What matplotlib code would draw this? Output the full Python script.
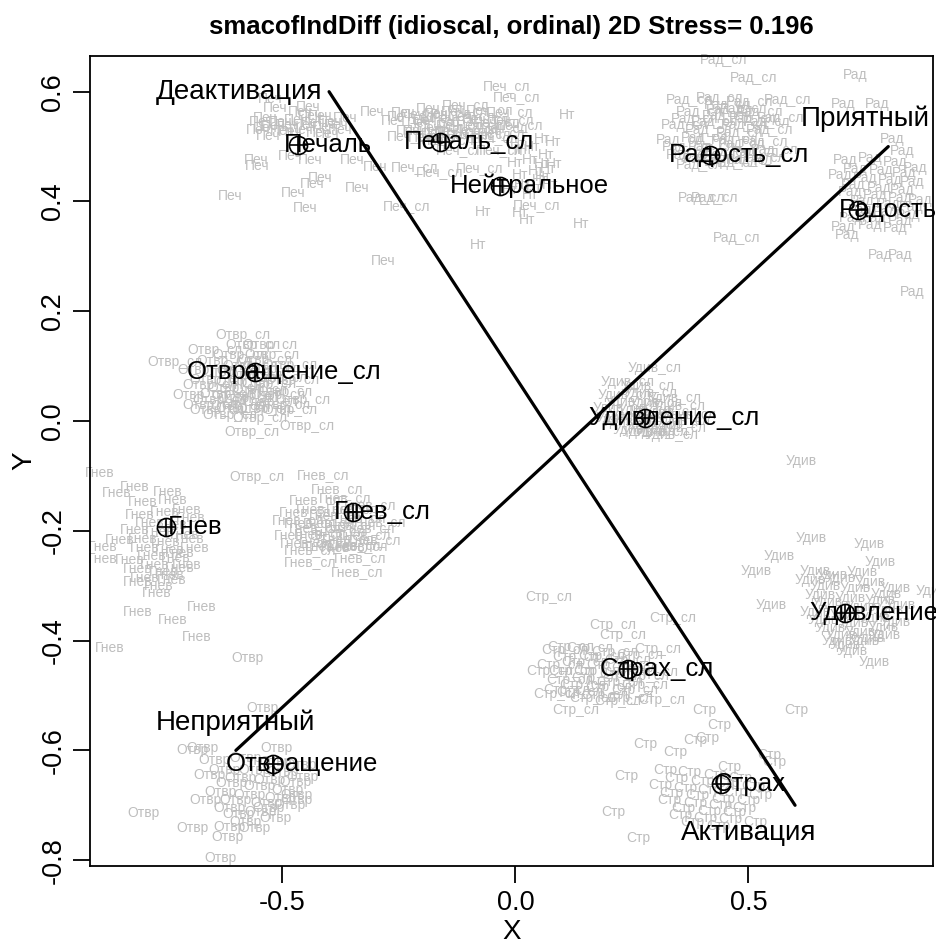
import matplotlib
matplotlib.use("Agg")
import matplotlib.pyplot as plt

plt.rcParams['font.family'] = ['Liberation Sans', 'DejaVu Sans']

# ---------------- data ----------------
title = "smacofIndDiff (idioscal, ordinal) 2D Stress= 0.196"

centroid_labels = ["Печаль", "Печаль_сл", "Нейтральное", "Радость_сл", "Радость",
                   "Отвращение_сл", "Гнев", "Гнев_сл", "Удивление_сл", "Удивление",
                   "Страх_сл", "Страх", "Отвращение"]
centroid_x = [-0.466, -0.162, -0.033, 0.418, 0.736, -0.559, -0.750, -0.348,
              0.277, 0.707, 0.241, 0.440, -0.520]
centroid_y = [0.503, 0.509, 0.428, 0.485, 0.385, 0.090, -0.193, -0.165,
              0.006, -0.350, -0.452, -0.661, -0.624]

# individual (subject) configurations, gray labels
pech_x = [-0.538, -0.538, -0.462, -0.420, -0.505, -0.452, -0.398, -0.366, -0.553, -0.484,
          -0.424, -0.377, -0.557, -0.555, -0.613, -0.478, -0.452, -0.340, -0.420, -0.437,
          -0.284, -0.351, -0.302, -0.441, -0.484, -0.308, -0.516, -0.445, -0.527,
          -0.545, -0.520, -0.490, -0.470, -0.435, -0.410, -0.385, -0.500, -0.460, -0.440,
          -0.530, -0.405]
pech_y = [0.552, 0.534, 0.563, 0.556, 0.545, 0.539, 0.545, 0.552, 0.530, 0.526,
          0.525, 0.530, 0.475, 0.464, 0.410, 0.415, 0.388, 0.424, 0.443, 0.432,
          0.291, 0.475, 0.463, 0.475, 0.483, 0.563, 0.570, 0.572, 0.587,
          0.545, 0.538, 0.540, 0.548, 0.543, 0.535, 0.540, 0.528, 0.530, 0.555,
          0.520, 0.522]

pechsl_x = [-0.018, 0.003, 0.010, -0.216, -0.162, -0.108, -0.055, -0.012, -0.237, -0.183,
            -0.130, -0.076, -0.023, -0.205, -0.151, -0.098, -0.044, -0.216, -0.162, -0.076,
            -0.233, 0.046, -0.226, -0.119, -0.033,
            -0.225, -0.195, -0.170, -0.145, -0.120, -0.095, -0.065, -0.040, -0.010, -0.190,
            -0.160, -0.125, -0.085, -0.060, -0.140, -0.180, -0.110, -0.030]
pechsl_y = [0.610, 0.590, 0.539, 0.563, 0.570, 0.576, 0.566, 0.563, 0.548, 0.545,
            0.552, 0.539, 0.534, 0.530, 0.525, 0.521, 0.515, 0.463, 0.454, 0.461,
            0.392, 0.393, 0.519, 0.494, 0.494,
            0.555, 0.560, 0.548, 0.562, 0.540, 0.555, 0.550, 0.545, 0.548, 0.530,
            0.535, 0.528, 0.530, 0.522, 0.512, 0.518, 0.565, 0.525]

nt_x = [0.057, 0.057, 0.083, 0.010, 0.025, 0.141, -0.070, -0.080, 0.111, 0.080,
        -0.001, 0.031, 0.010, 0.053, -0.012, 0.031, 0.074, 0.020,
        0.000, 0.045, 0.065, 0.035, 0.015, 0.060, 0.040, 0.070, 0.005]
nt_y = [0.514, 0.468, 0.468, 0.379, 0.366, 0.359, 0.381, 0.321, 0.557, 0.508,
        0.494, 0.475, 0.448, 0.439, 0.421, 0.412, 0.430, 0.494,
        0.470, 0.455, 0.485, 0.500, 0.430, 0.445, 0.425, 0.460, 0.505]

radsl_x = [0.447, 0.512, 0.585, 0.428, 0.400, 0.475, 0.374, 0.439, 0.503, 0.396,
           0.460, 0.525, 0.568, 0.364, 0.428, 0.492, 0.546, 0.353, 0.407, 0.471,
           0.535, 0.374, 0.439, 0.503, 0.557, 0.396,
           0.385, 0.415, 0.450, 0.480, 0.510, 0.540, 0.420, 0.455, 0.485, 0.515,
           0.365, 0.455, 0.490, 0.410, 0.470, 0.530]
radsl_y = [0.658, 0.625, 0.585, 0.406, 0.406, 0.333, 0.585, 0.588, 0.581, 0.563,
           0.566, 0.563, 0.552, 0.539, 0.545, 0.539, 0.530, 0.512, 0.515, 0.512,
           0.508, 0.485, 0.475, 0.475, 0.494, 0.466,
           0.550, 0.530, 0.555, 0.525, 0.550, 0.545, 0.500, 0.490, 0.505, 0.490,
           0.500, 0.575, 0.568, 0.478, 0.470, 0.480]

rad_x = [0.728, 0.703, 0.776, 0.808, 0.829, 0.851, 0.782, 0.825, 0.703, 0.711,
         0.707, 0.761, 0.814, 0.857, 0.696, 0.750, 0.804, 0.851, 0.718, 0.771,
         0.825, 0.868, 0.739, 0.793, 0.842, 0.761, 0.814,
         0.730, 0.785, 0.835, 0.725, 0.780, 0.830, 0.745, 0.800, 0.850, 0.770,
         0.825, 0.720]
rad_y = [0.630, 0.577, 0.577, 0.514, 0.492, 0.235, 0.302, 0.302, 0.353, 0.339,
         0.475, 0.479, 0.472, 0.461, 0.448, 0.443, 0.439, 0.435, 0.417, 0.412,
         0.406, 0.403, 0.384, 0.381, 0.375, 0.357, 0.352,
         0.460, 0.458, 0.452, 0.430, 0.425, 0.420, 0.400, 0.395, 0.390, 0.370,
         0.365, 0.370]

otvrsl_x = [-0.585, -0.563, -0.527, -0.523, -0.731, -0.456, -0.641, -0.585, -0.565, -0.447,
            -0.555, -0.645, -0.591, -0.538, -0.484, -0.666, -0.613, -0.559, -0.505, -0.656,
            -0.602, -0.548, -0.495, -0.634, -0.580, -0.527, -0.613, -0.548, -0.484, -0.677,
            -0.625, -0.570, -0.520, -0.640, -0.585, -0.530, -0.480, -0.620, -0.565, -0.510,
            -0.595, -0.540, -0.500, -0.655]
otvrsl_y = [0.157, 0.138, 0.138, 0.120, 0.107, 0.038, 0.020, 0.024, -0.020, -0.009,
            -0.102, 0.129, 0.120, 0.111, 0.102, 0.093, 0.089, 0.084, 0.078, 0.066,
            0.060, 0.056, 0.053, 0.038, 0.042, 0.035, 0.011, 0.005, 0.020, 0.047,
            0.110, 0.100, 0.095, 0.075, 0.072, 0.068, 0.075, 0.050, 0.045, 0.048,
            0.028, 0.022, 0.030, 0.030]

gnev_x = [-0.892, -0.855, -0.817, -0.746, -0.799, -0.735, -0.705, -0.885, -0.885, -0.705,
          -0.810, -0.737, -0.769, -0.810, -0.735, -0.673, -0.683, -0.870, -0.806, -0.752,
          -0.698, -0.817, -0.763, -0.709, -0.795, -0.741, -0.688, -0.827, -0.774, -0.720,
          -0.795, -0.741, -0.849,
          -0.785, -0.735, -0.800, -0.750, -0.700, -0.780, -0.730, -0.810, -0.755, -0.765,
          -0.720]
gnev_y = [-0.095, -0.131, -0.120, -0.129, -0.148, -0.144, -0.162, -0.230, -0.251, -0.262,
          -0.293, -0.290, -0.313, -0.348, -0.362, -0.339, -0.393, -0.413, -0.171, -0.166,
          -0.177, -0.199, -0.202, -0.208, -0.231, -0.235, -0.231, -0.253, -0.262, -0.268,
          -0.286, -0.281, -0.217,
          -0.185, -0.190, -0.215, -0.220, -0.215, -0.245, -0.250, -0.270, -0.275, -0.300,
          -0.240]

gnevsl_x = [-0.413, -0.383, -0.441, -0.362, -0.441, -0.334, -0.340, -0.467, -0.430, -0.366,
            -0.312, -0.452, -0.387, -0.334, -0.291, -0.430, -0.377, -0.323, -0.409, -0.344,
            -0.302, -0.462,
            -0.415, -0.350, -0.440, -0.400, -0.355, -0.315, -0.420, -0.360, -0.395, -0.330,
            -0.450]
gnevsl_y = [-0.098, -0.124, -0.235, -0.230, -0.257, -0.250, -0.275, -0.180, -0.144, -0.140,
            -0.153, -0.166, -0.171, -0.177, -0.184, -0.195, -0.202, -0.208, -0.220, -0.226,
            -0.217, -0.208,
            -0.160, -0.160, -0.185, -0.185, -0.190, -0.195, -0.205, -0.215, -0.228, -0.228,
            -0.222]

otvr_x = [-0.576, -0.542, -0.671, -0.692, -0.512, -0.799, -0.692, -0.613, -0.619, -0.634,
          -0.456, -0.469, -0.645, -0.580, -0.516, -0.462, -0.656, -0.591, -0.527, -0.473,
          -0.634, -0.570, -0.505, -0.613, -0.548, -0.484, -0.580, -0.516, -0.666,
          -0.625, -0.560, -0.500, -0.610, -0.550, -0.490, -0.600, -0.535, -0.595, -0.530,
          -0.470, -0.560]
otvr_y = [-0.432, -0.523, -0.596, -0.599, -0.596, -0.714, -0.741, -0.740, -0.758, -0.796,
          -0.648, -0.681, -0.617, -0.614, -0.621, -0.627, -0.645, -0.650, -0.654, -0.658,
          -0.676, -0.681, -0.687, -0.705, -0.712, -0.699, -0.730, -0.723, -0.690,
          -0.635, -0.635, -0.640, -0.660, -0.665, -0.672, -0.690, -0.695, -0.715, -0.705,
          -0.690, -0.742]

udivsl_x = [0.299, 0.241, 0.284, 0.235, 0.289, 0.342, 0.224, 0.278, 0.332, 0.374,
            0.246, 0.299, 0.353, 0.314, 0.267,
            0.250, 0.300, 0.350, 0.260, 0.310, 0.360, 0.230, 0.285, 0.335]
udivsl_y = [0.097, 0.071, 0.064, 0.047, 0.051, 0.042, 0.024, 0.020, 0.016, 0.011,
            -0.002, -0.007, -0.013, -0.020, -0.016,
            0.035, 0.032, 0.028, 0.010, 0.005, 0.000, 0.005, -0.020, -0.025]

udiv_x = [0.613, 0.634, 0.759, 0.565, 0.516, 0.643, 0.782, 0.548, 0.892, 0.690,
          0.748, 0.722, 0.769, 0.632, 0.696, 0.761, 0.814, 0.653, 0.718, 0.782,
          0.825, 0.643, 0.707, 0.771, 0.814, 0.675, 0.739, 0.793, 0.707,
          0.665, 0.730, 0.795, 0.670, 0.740, 0.800, 0.660, 0.725, 0.790, 0.700,
          0.760, 0.680, 0.745]
udiv_y = [-0.073, -0.213, -0.224, -0.246, -0.273, -0.273, -0.257, -0.335, -0.310, -0.401,
          -0.401, -0.419, -0.439, -0.290, -0.286, -0.293, -0.304, -0.317, -0.322, -0.326,
          -0.335, -0.348, -0.353, -0.359, -0.366, -0.377, -0.384, -0.390, -0.408,
          -0.300, -0.305, -0.315, -0.330, -0.338, -0.345, -0.362, -0.368, -0.375, -0.390,
          -0.395, -0.280, -0.275]

strsl_x = [0.072, 0.209, 0.338, 0.231, 0.119, 0.306, 0.074, 0.089, 0.130, 0.314,
           0.106, 0.160, 0.214, 0.267, 0.095, 0.149, 0.203, 0.256, 0.299, 0.117,
           0.171, 0.224, 0.278, 0.138, 0.192, 0.246,
           0.130, 0.185, 0.240, 0.120, 0.175, 0.230, 0.280, 0.145, 0.200, 0.255,
           0.165, 0.220, 0.110]
strsl_y = [-0.321, -0.372, -0.359, -0.390, -0.412, -0.415, -0.455, -0.497, -0.526, -0.508,
           -0.417, -0.413, -0.421, -0.426, -0.444, -0.439, -0.444, -0.450, -0.457, -0.472,
           -0.468, -0.475, -0.481, -0.494, -0.499, -0.505,
           -0.430, -0.428, -0.435, -0.455, -0.455, -0.460, -0.465, -0.480, -0.485, -0.490,
           -0.505, -0.510, -0.490]

str_x = [0.405, 0.602, 0.437, 0.278, 0.385, 0.411, 0.342, 0.237, 0.544, 0.555,
         0.209, 0.263, 0.514, 0.458, 0.321, 0.374, 0.428, 0.482, 0.310, 0.364,
         0.417, 0.471, 0.525, 0.331, 0.385, 0.439, 0.492, 0.353, 0.407, 0.460,
         0.345, 0.400, 0.455, 0.335, 0.390, 0.445, 0.500, 0.360, 0.415, 0.470,
         0.380, 0.435, 0.510]
str_y = [-0.526, -0.526, -0.554, -0.588, -0.581, -0.577, -0.603, -0.647, -0.608, -0.621,
         -0.712, -0.760, -0.730, -0.630, -0.636, -0.639, -0.645, -0.650, -0.663, -0.668,
         -0.672, -0.676, -0.681, -0.690, -0.696, -0.699, -0.705, -0.718, -0.723, -0.725,
         -0.650, -0.655, -0.660, -0.678, -0.682, -0.688, -0.690, -0.705, -0.710, -0.712,
         -0.730, -0.738, -0.665]

gray_groups = [
    ("Печ", pech_x, pech_y),
    ("Печ_сл", pechsl_x, pechsl_y),
    ("Нт", nt_x, nt_y),
    ("Рад_сл", radsl_x, radsl_y),
    ("Рад", rad_x, rad_y),
    ("Отвр_сл", otvrsl_x, otvrsl_y),
    ("Гнев", gnev_x, gnev_y),
    ("Гнев_сл", gnevsl_x, gnevsl_y),
    ("Отвр", otvr_x, otvr_y),
    ("Удив_сл", udivsl_x, udivsl_y),
    ("Удив", udiv_x, udiv_y),
    ("Стр_сл", strsl_x, strsl_y),
    ("Стр", str_x, str_y),
]

# interpretation dimensions
activation_x = [-0.4, 0.6]
activation_y = [0.6, -0.7]
valence_x = [-0.6, 0.8]
valence_y = [-0.6, 0.5]
dim_labels = ["Деактивация", "Активация", "Приятный", "Неприятный"]
dim_label_x = [-0.4, 0.5, 0.75, -0.6]
dim_label_y = [0.6, -0.75, 0.55, -0.55]

x_ticks = [-0.5, 0.0, 0.5]
x_ticklabels = ["-0.5", "0.0", "0.5"]
y_ticks = [-0.8, -0.6, -0.4, -0.2, 0.0, 0.2, 0.4, 0.6]
y_ticklabels = ["-0.8", "-0.6", "-0.4", "-0.2", "0.0", "0.2", "0.4", "0.6"]

# ---------------- figure ----------------
W, H = 936, 949
fig = plt.figure(figsize=(W / 100, H / 100), dpi=100)
L, R, T, B = 90, 933, 56, 866
ax = fig.add_axes([L / W, 1 - B / H, (R - L) / W, (B - T) / H])
ax.set_xlim(-0.913, 0.896)
ax.set_ylim(-0.8106, 0.665)

gray = "#bebebe"
for lab, xs, ys in gray_groups:
    for x, y in zip(xs, ys):
        ax.text(x, y, lab, color=gray, fontsize=10, ha="center", va="center", zorder=1)

ax.plot(activation_x, activation_y, color="black", lw=2.3, zorder=3, solid_capstyle="round")
ax.plot(valence_x, valence_y, color="black", lw=2.3, zorder=3, solid_capstyle="round")

ax.plot(centroid_x, centroid_y, linestyle="none", marker="o", markersize=13,
        markerfacecolor="none", markeredgecolor="black", markeredgewidth=1.2, zorder=4)
ax.plot(centroid_x, centroid_y, linestyle="none", marker="+", markersize=13,
        markeredgecolor="black", markeredgewidth=1.2, zorder=4)
for lab, x, y in zip(centroid_labels, centroid_x, centroid_y):
    ax.annotate(lab, (x, y), xytext=(21, 0), textcoords="offset points",
                fontsize=18.5, ha="center", va="center", color="black", zorder=5)

for i, (lab, x, y) in enumerate(zip(dim_labels, dim_label_x, dim_label_y)):
    if i == 0:
        ax.annotate(lab, (x, y), xytext=(-5, 0), textcoords="offset points",
                    fontsize=20, ha="right", va="center", zorder=5)
    else:
        ax.text(x, y, lab, fontsize=20, ha="center", va="center", zorder=5)

for sp in ax.spines.values():
    sp.set_linewidth(1.3)
ax.set_xticks(x_ticks)
ax.set_xticklabels(x_ticklabels)
ax.set_yticks(y_ticks)
ax.set_yticklabels(y_ticklabels, rotation=90, va="center")
ax.tick_params(axis="both", direction="out", length=12, width=1.3, labelsize=19.5, pad=5)

fig.text((L + R) / 2 / W, 1 - 27 / H, title, ha="center", va="center",
         fontsize=18.5, fontweight="bold")
fig.text((L + R) / 2 / W, 1 - 932 / H, "X", ha="center", va="center", fontsize=20)
fig.text(24 / W, 1 - (T + B) / 2 / H, "Y", ha="center", va="center", fontsize=20, rotation=90)

fig.savefig("out.png", dpi=100)
